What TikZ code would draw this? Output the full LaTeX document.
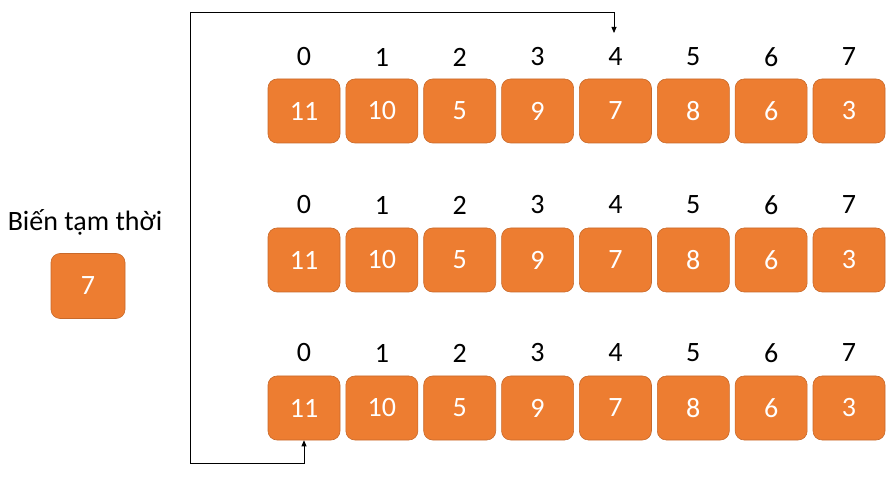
\documentclass[tikz,border=0pt]{standalone}
\usepackage{fontspec}
\setmainfont{Carlito}
\usetikzlibrary{arrows.meta}
\definecolor{boxfill}{HTML}{ED7D31}
\definecolor{boxline}{HTML}{C8692A}
\tikzset{
  cell/.style={draw=boxline, line width=0.6pt, fill=boxfill, rounded corners=9pt,
    minimum width=72pt, minimum height=64pt, inner sep=0pt, text=white, font=\fontsize{28}{32}\selectfont},
  idx/.style={inner sep=0pt, font=\fontsize{28}{32}\selectfont},
  conn/.style={line width=0.8pt, -{Triangle[length=6pt,width=5pt]}}
}
\begin{document}
\begin{tikzpicture}[x=1pt,y=1pt]
\useasboundingbox (0,0) rectangle (893,479);
\foreach \r/\yb/\yl in {1/368/422, 2/219/274, 3/71/126}{
  \foreach \v [count=\i from 0] in {11,10,5,9,7,8,6,3}{
    \node[cell] (b\r\i) at (304+77.86*\i,\yb) {\v};
    \node[idx] (l\r\i) at (304+77.86*\i,\yl) {\i};
  }
}
\node[idx] (templbl) at (85,257) {Biến tạm thời};
\node[cell, minimum width=74pt, minimum height=65pt] (temp) at (88,193) {7};
\coordinate (c1) at (190,16);
\coordinate (c2) at (190,467);
\coordinate (c3) at (614,467);
\coordinate (t4) at (614,446);
\draw[conn] (c2) -- (c3) -- (t4);
\draw[conn] (c2) -- (c1) -| (b30.south);
\end{tikzpicture}
\end{document}
